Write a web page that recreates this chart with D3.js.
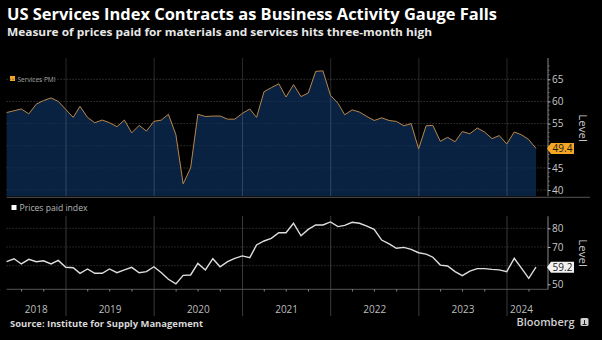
<!DOCTYPE html>
<html><head><meta charset="utf-8">
<script src="https://cdn.jsdelivr.net/npm/d3@7"></script>
<style>html,body{margin:0;padding:0;background:#000;}svg{display:block;}</style>
</head><body><svg id="c" width="602" height="340"></svg>
<script>
// ---- data ----
const startYear = 2018, startMonth = 4; // first observation: April 2018, monthly through April 2024
const servicesPMI = [
  57.5,57.9,58.3,57.2,59.4,60.2,60.8,60.0,58.2,
  56.4,58.9,56.4,55.2,55.8,55.2,54.3,55.8,52.9,54.6,53.3,55.5,
  55.8,57.1,52.5,41.4,45.0,57.1,56.6,56.7,56.7,56.0,56.0,57.3,
  58.3,56.4,62.2,63.1,64.0,61.0,63.8,61.1,61.9,66.8,66.9,61.4,
  59.6,57.0,58.1,57.6,56.6,55.7,56.3,55.7,55.5,54.5,55.0,49.3,
  54.5,54.6,51.0,51.9,50.9,53.2,52.7,54.0,53.1,51.6,52.3,50.4,
  53.1,52.5,51.4,49.4
];
const pricesPaid = [
  62.1,63.7,60.9,63.4,62.1,62.6,60.9,62.8,59.1,
  58.9,55.9,58.2,55.9,55.9,58.2,56.2,57.7,59.1,56.2,56.8,59.4,
  56.2,52.7,50.2,54.8,55.0,61.2,57.7,63.7,59.4,62.1,63.9,65.2,
  64.3,71.1,73.2,74.6,77.6,77.6,82.7,76.0,79.4,81.8,81.8,83.4,
  80.9,81.6,83.2,82.7,81.2,79.4,73.7,71.6,69.3,69.8,68.7,66.9,
  66.2,64.5,60.3,59.8,56.8,54.6,57.1,58.4,58.4,58.0,57.7,56.8,
  63.9,58.8,53.2,59.2
];
const years = [2018,2019,2020,2021,2022,2023,2024];
const pmiTicks = [40,45,50,55,60,65];
const pmiTickLabels = [40,45,55,60,65];   // 50 is hidden behind the value tag
const priceTicks = [50,60,70,80];
const priceTickLabels = [50,70,80];       // 60 is hidden behind the value tag
const title = "US Services Index Contracts as Business Activity Gauge Falls";
const subtitle = "Measure of prices paid for materials and services hits three-month high";
const source = "Source: Institute for Supply Management";

// ---- build ----
const dates = servicesPMI.map((_, i) => new Date(startYear, startMonth - 1 + i + 1, 0)); // month-end
const svg = d3.select("#c");
const FONT = "'Open Sans','Noto Sans',sans-serif";
svg.append("rect").attr("width",602).attr("height",340).attr("fill","#000");

const x = d3.scaleTime().domain([new Date(2019,0,1), new Date(2024,0,1)]).range([66, 507]);
const xL = x(dates[0]), xR = 548;

// titles
svg.append("text").attr("x",7).attr("y",19.5).attr("fill","#fff").attr("font-family",FONT)
  .attr("font-weight",700).attr("font-size",15.5).attr("textLength",490).attr("lengthAdjust","spacingAndGlyphs").text(title);
svg.append("text").attr("x",7).attr("y",35.5).attr("fill","#e8e8e8").attr("font-family",FONT)
  .attr("font-weight",700).attr("font-size",11).attr("textLength",425).attr("lengthAdjust","spacingAndGlyphs").text(subtitle);

// ---- top panel ----
const yT = d3.scaleLinear().domain([38.65, 69.81]).range([196, 58]);
svg.append("rect").attr("x",10).attr("y",76).attr("width",5).attr("height",5).attr("fill","#f5a623");
svg.append("text").attr("x",17.5).attr("y",81.5).attr("fill","#b0b0b0").attr("font-family",FONT)
  .attr("font-size",8).attr("textLength",38).attr("lengthAdjust","spacingAndGlyphs").text("Services PMI");

const gT = svg.append("g");
gT.selectAll("line.hg").data(pmiTicks).join("line").attr("x1",xL).attr("x2",xR)
  .attr("y1",d=>yT(d)).attr("y2",d=>yT(d)).attr("stroke","#3c3c3c").attr("stroke-dasharray","1,2");
gT.append("path").datum(servicesPMI)
  .attr("d", d3.area().x((d,i)=>x(dates[i])).y0(yT(38.65)).y1(d=>yT(d)))
  .attr("fill","#0a2242");
gT.selectAll("line.hg2").data(pmiTicks).join("line").attr("x1",xL).attr("x2",xR)
  .attr("y1",d=>yT(d)).attr("y2",d=>yT(d)).attr("stroke","rgba(255,255,255,0.1)").attr("stroke-dasharray","1,2");
gT.selectAll("line.vg").data(years.slice(1)).join("line")
  .attr("x1",d=>x(new Date(d,0,1))).attr("x2",d=>x(new Date(d,0,1)))
  .attr("y1",58).attr("y2",196).attr("stroke","rgba(255,255,255,0.16)").attr("stroke-width",1);
gT.append("path").datum(servicesPMI)
  .attr("d", d3.line().x((d,i)=>x(dates[i])).y(d=>yT(d)))
  .attr("fill","none").attr("stroke","#b8874a").attr("stroke-width",1);

const axT = svg.append("g").attr("transform",`translate(${xR},0)`)
  .call(d3.axisRight(yT).tickValues(pmiTicks).tickSize(2.5).tickPadding(1.5)
    .tickFormat(d => pmiTickLabels.includes(d) ? d3.format("d")(d) : ""));
axT.select(".domain").attr("d","M0,58V196").attr("stroke","#888");
axT.selectAll(".tick line").attr("stroke","#bbb");
axT.selectAll(".tick text").attr("fill","#c8c8c8").attr("font-family",FONT).attr("font-size",10);
svg.append("g").attr("transform",`translate(${xR},0)`).selectAll("line").data(d3.range(41,69).filter(v=>v%5)).join("line")
  .attr("x1",0).attr("x2",1.5).attr("y1",d=>yT(d)).attr("y2",d=>yT(d)).attr("stroke","#777");
svg.append("text").attr("transform","translate(579,128) rotate(90)").attr("text-anchor","middle")
  .attr("fill","#c8c8c8").attr("font-family",FONT).attr("font-size",11.5).text("Level");

function valueTag(yv, val, fill){
  const x0 = 547, x1 = 574, h = 5.5;
  svg.append("path").attr("d",`M${x0},${yv}L${x0+4},${yv-h}H${x1}V${yv+h}H${x0+4}Z`).attr("fill",fill);
  svg.append("text").attr("x",(x0+4+x1)/2).attr("y",yv+3.6).attr("text-anchor","middle")
    .attr("fill","#1a1a1a").attr("font-family",FONT).attr("font-size",10).text(val.toFixed(1));
}
valueTag(yT(servicesPMI[servicesPMI.length-1]), servicesPMI[servicesPMI.length-1], "#f5a623");

// separator
svg.append("line").attr("x1",xL).attr("x2",590).attr("y1",197.3).attr("y2",197.3).attr("stroke","#555").attr("stroke-width",1);

// ---- bottom panel ----
const yB = d3.scaleLinear().domain([47.32, 86.43]).range([289.3, 216.3]);
svg.append("rect").attr("x",11.5).attr("y",205).attr("width",5).attr("height",5).attr("fill","#fff");
svg.append("text").attr("x",19.5).attr("y",210.5).attr("fill","#b8b8b8").attr("font-family",FONT)
  .attr("font-size",8.5).attr("textLength",68).attr("lengthAdjust","spacingAndGlyphs").text("Prices paid index");

const gB = svg.append("g");
gB.selectAll("line.hg").data([60,70,80]).join("line").attr("x1",xL).attr("x2",xR)
  .attr("y1",d=>yB(d)).attr("y2",d=>yB(d)).attr("stroke","#444").attr("stroke-dasharray","1,2");
gB.selectAll("line.vg").data(years.slice(1)).join("line")
  .attr("x1",d=>x(new Date(d,0,1))).attr("x2",d=>x(new Date(d,0,1)))
  .attr("y1",216).attr("y2",316).attr("stroke","#3a3a3a").attr("stroke-width",1);
gB.append("line").attr("x1",xL).attr("x2",xR).attr("y1",289.3).attr("y2",289.3).attr("stroke","#555");
// quarterly minor ticks
const qt = d3.timeMonth.every(3).range(new Date(2018,3,1), new Date(2024,4,1)).filter(d=>d.getMonth()!==0);
gB.selectAll("line.qt").data(qt).join("line").attr("x1",d=>x(d)).attr("x2",d=>x(d))
  .attr("y1",289.3).attr("y2",291.5).attr("stroke","#888");
gB.append("path").datum(pricesPaid)
  .attr("d", d3.line().x((d,i)=>x(dates[i])).y(d=>yB(d)))
  .attr("fill","none").attr("stroke","#dedede").attr("stroke-width",1.4);

const axB = svg.append("g").attr("transform",`translate(${xR},0)`)
  .call(d3.axisRight(yB).tickValues(priceTicks).tickSize(2.5).tickPadding(1.5)
    .tickFormat(d => priceTickLabels.includes(d) ? d3.format("d")(d) : ""));
axB.select(".domain").attr("d","M0,216.3V289.3").attr("stroke","#888");
axB.selectAll(".tick line").attr("stroke","#bbb");
axB.selectAll(".tick text").attr("fill","#c8c8c8").attr("font-family",FONT).attr("font-size",10);
svg.append("text").attr("transform","translate(579,253) rotate(90)").attr("text-anchor","middle")
  .attr("fill","#c8c8c8").attr("font-family",FONT).attr("font-size",11.5).text("Level");
valueTag(yB(pricesPaid[pricesPaid.length-1]), pricesPaid[pricesPaid.length-1], "#f2f2f2");

// year labels centered on visible segment
const xEnd = x(dates[dates.length-1]);
svg.selectAll("text.yr").data(years).join("text")
  .attr("x", d => (Math.max(xL, x(new Date(d,0,1))) + Math.min(xEnd, x(new Date(d+1,0,1))))/2)
  .attr("y", 312.5).attr("text-anchor","middle").attr("fill","#bdbdbd")
  .attr("font-family",FONT).attr("font-size",10).text(d=>d);

// footer
svg.append("text").attr("x",10).attr("y",327).attr("fill","#d8d8d8").attr("font-family",FONT)
  .attr("font-weight",700).attr("font-size",8.5).attr("textLength",193).attr("lengthAdjust","spacingAndGlyphs").text(source);
svg.append("text").attr("x",516.5).attr("y",326).attr("fill","#d0d0d0").attr("font-family",FONT)
  .attr("font-weight",600).attr("font-size",11).attr("textLength",58).attr("lengthAdjust","spacingAndGlyphs").text("Bloomberg");
svg.append("rect").attr("x",580.5).attr("y",318).attr("width",8).attr("height",8).attr("rx",1.5).attr("fill","#d0d0d0");
svg.append("path").attr("d","M582.5,324.5h4M584.5,320v4.5").attr("stroke","#222").attr("stroke-width",1);
</script></body></html>
